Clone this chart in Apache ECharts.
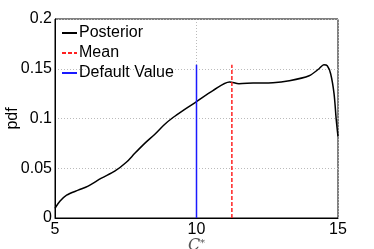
<!DOCTYPE html>
<html>
<head>
<meta charset="utf-8">
<script src="https://cdn.jsdelivr.net/npm/echarts@6/dist/echarts.min.js"></script>
<style>html,body{margin:0;padding:0;background:#fff}#c{width:374px;height:249px}</style>
</head>
<body>
<div id="c"></div>
<script>
const posteriorX = [5.0, 5.18, 5.41, 5.82, 6.17, 6.64, 7.11, 7.52, 7.82, 8.17, 8.52, 8.87, 9.17, 9.52, 10.0, 10.58, 11.17, 11.5, 12.0, 12.7, 13.28, 13.98, 14.33, 14.5, 14.62, 14.74, 14.86, 14.94, 15.0];
const posteriorY = [0.0097, 0.017, 0.023, 0.028, 0.032, 0.040, 0.047, 0.056, 0.065, 0.075, 0.084, 0.094, 0.101, 0.108, 0.117, 0.128, 0.1367, 0.135, 0.1357, 0.136, 0.138, 0.143, 0.15, 0.154, 0.153, 0.145, 0.125, 0.098, 0.082];
const meanValue = 11.25;
const defaultValue = 10;
const markerTop = 0.154;
const xTicks = [5, 10, 15];
const yTicks = [0, 0.05, 0.1, 0.15, 0.2];
const seriesNames = ['Posterior', 'Mean', 'Default Value'];

const font = 'Liberation Sans, Arial, Helvetica, sans-serif';
const chart = echarts.init(document.getElementById('c'), null, {renderer: 'canvas'});
chart.setOption({
  animation: false,
  backgroundColor: '#fff',
  grid: {left: 55, right: 36, top: 19, bottom: 31, outerBoundsMode: 'none', containLabel: false, show: true, borderColor: '#000', borderWidth: 1, backgroundColor: 'transparent'},
  legend: {
    orient: 'vertical', left: 61, top: 25, itemWidth: 15, itemHeight: 12, itemGap: 4,
    padding: 0,
    itemStyle: {opacity: 0},
    textStyle: {fontSize: 16, color: '#000', fontFamily: font, padding: [0,0,0,-3]},
    data: seriesNames
  },
  xAxis: {
    type: 'value', min: xTicks[0], max: xTicks[xTicks.length-1], interval: 5,
    axisLine: {show: true, lineStyle: {color: '#000', width: 1}},
    axisTick: {show: false},
    axisLabel: {color: '#000', fontSize: 16, fontFamily: font, margin: 4},
    splitLine: {show: true, lineStyle: {color: '#bbb', type: [1, 2], width: 1}},
    name: '{c|C}{s|*}', nameLocation: 'middle', nameGap: 20, nameMoveOverlap: false,
    nameTextStyle: {rich: {
      c: {fontFamily: 'DejaVu Serif, Liberation Serif, serif', fontStyle: 'italic', fontSize: 16, color: '#555'},
      s: {fontFamily: 'DejaVu Serif, Liberation Serif, serif', fontSize: 10, color: '#555', verticalAlign: 'top', padding: [0,0,6,0]}
    }}
  },
  yAxis: {
    type: 'value', min: yTicks[0], max: yTicks[yTicks.length-1], interval: 0.05,
    axisLine: {show: true, lineStyle: {color: '#000', width: 1}},
    axisTick: {show: false},
    axisLabel: {color: '#000', fontSize: 16, fontFamily: font, margin: 3},
    splitLine: {show: true, lineStyle: {color: '#bbb', type: [1, 2], width: 1}},
    name: 'pdf', nameLocation: 'middle', nameGap: 34, nameRotate: 90, nameMoveOverlap: false,
    nameTextStyle: {color: '#000', fontSize: 16, fontFamily: font}
  },
  series: [
    {name: seriesNames[0], type: 'line', smooth: 0.3, symbol: 'none', data: posteriorX.map((x, i) => [x, posteriorY[i]]), lineStyle: {color: '#000', width: 1.5}, itemStyle: {color: '#000'}, z: 3},
    {name: seriesNames[1], type: 'line', symbol: 'none', data: [[meanValue, 0], [meanValue, markerTop]], lineStyle: {color: '#ff2020', width: 1.5, type: [4, 2]}, itemStyle: {color: '#ff2020'}},
    {name: seriesNames[2], type: 'line', symbol: 'none', data: [[defaultValue, 0], [defaultValue, markerTop]], lineStyle: {color: '#1a1aff', width: 1.5}, itemStyle: {color: '#1a1aff'}}
  ]
});
</script>
</body>
</html>
